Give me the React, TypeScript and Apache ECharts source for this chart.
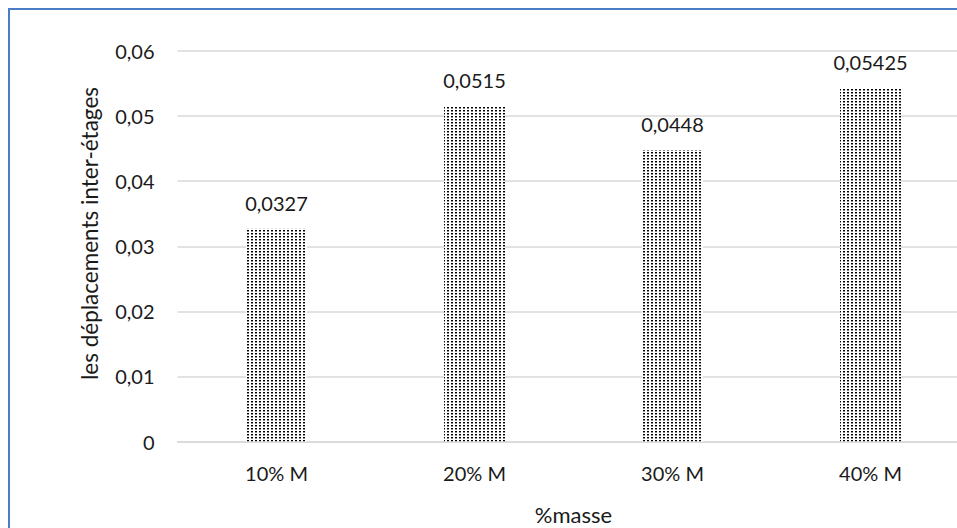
import React, { useEffect, useRef } from "react";
import * as echarts from "echarts";

const categories = ["10% M", "20% M", "30% M", "40% M"];
const values = [0.0327, 0.0515, 0.0448, 0.05425];
const yTicks = { min: 0, max: 0.06, interval: 0.01 };
const xTitle = "%masse";
const yTitle = "les déplacements inter-étages";

const FONT = "Lato, 'Open Sans', sans-serif";

function makePattern(): HTMLCanvasElement {
  const c = document.createElement("canvas");
  c.width = 4;
  c.height = 3;
  const ctx = c.getContext("2d")!;
  ctx.fillStyle = "#ffffff";
  ctx.fillRect(0, 0, 4, 3);
  ctx.fillStyle = "#000000";
  ctx.fillRect(1, 1, 2, 1);
  ctx.fillStyle = "#8a8a8a";
  ctx.fillRect(1, 2, 2, 1);
  return c;
}

export default function App() {
  const ref = useRef<HTMLDivElement>(null);
  useEffect(() => {
    if (!ref.current) return;
    document.documentElement.style.overflow = "hidden";
    const chart = echarts.init(ref.current, undefined, { renderer: "svg" });
    const pattern = makePattern();
    const gridLeft = 167.5;
    const gridWidth = 792;
    const gridTop = 41;
    const gridHeight = 390.5;
    chart.setOption({
      animation: false,
      grid: { left: gridLeft, top: gridTop, width: gridWidth, height: gridHeight },
      xAxis: {
        type: "category",
        data: categories,
        axisLine: { show: true, lineStyle: { color: "#d9d9d9", width: 1.5 } },
        axisTick: { show: false },
        axisLabel: { color: "#1a1a1a", fontFamily: FONT, fontSize: 20, margin: 21 },
      },
      yAxis: {
        type: "value",
        min: yTicks.min,
        max: yTicks.max,
        interval: yTicks.interval,
        axisLine: { show: false },
        axisTick: { show: false },
        splitLine: { lineStyle: { color: "#d9d9d9", width: 1.5 } },
        axisLabel: {
          color: "#1a1a1a",
          fontFamily: FONT,
          fontSize: 20,
          margin: 23,
          formatter: (v: number) => (v === 0 ? "0" : v.toFixed(2).replace(".", ",")),
        },
      },
      series: [
        {
          type: "bar",
          data: values,
          barWidth: 61,
          itemStyle: {
            color: { image: pattern, repeat: "repeat", imageWidth: 4, imageHeight: 3 } as any,
          },
          label: {
            show: true,
            position: "top",
            distance: 16,
            color: "#1a1a1a",
            fontFamily: FONT,
            fontSize: 20,
            formatter: (p: any) => String(p.value).replace(".", ","),
          },
        },
      ],
      graphic: [
        {
          type: "text",
          x: 79.5,
          y: 223.5,
          rotation: Math.PI / 2,
          style: {
            text: yTitle,
            fill: "#1a1a1a",
            font: `22.5px ${FONT}`,
            align: "center",
            verticalAlign: "middle",
          },
        },
        {
          type: "text",
          x: gridLeft + gridWidth / 2,
          y: 504,
          style: {
            text: xTitle,
            fill: "#1a1a1a",
            font: `22px ${FONT}`,
            align: "center",
            verticalAlign: "middle",
          },
        },
      ],
    });
    return () => chart.dispose();
  }, []);
  return (
    <div
      style={{
        position: "fixed",
        left: 8,
        top: 8,
        width: 1100,
        height: 700,
        boxSizing: "border-box",
        borderLeft: "2px solid #4a7ec4",
        borderTop: "2px solid #4a7ec4",
        overflow: "hidden",
        background: "#fff",
      }}
    >
      <div ref={ref} style={{ width: 1000, height: 600 }} />
    </div>
  );
}
